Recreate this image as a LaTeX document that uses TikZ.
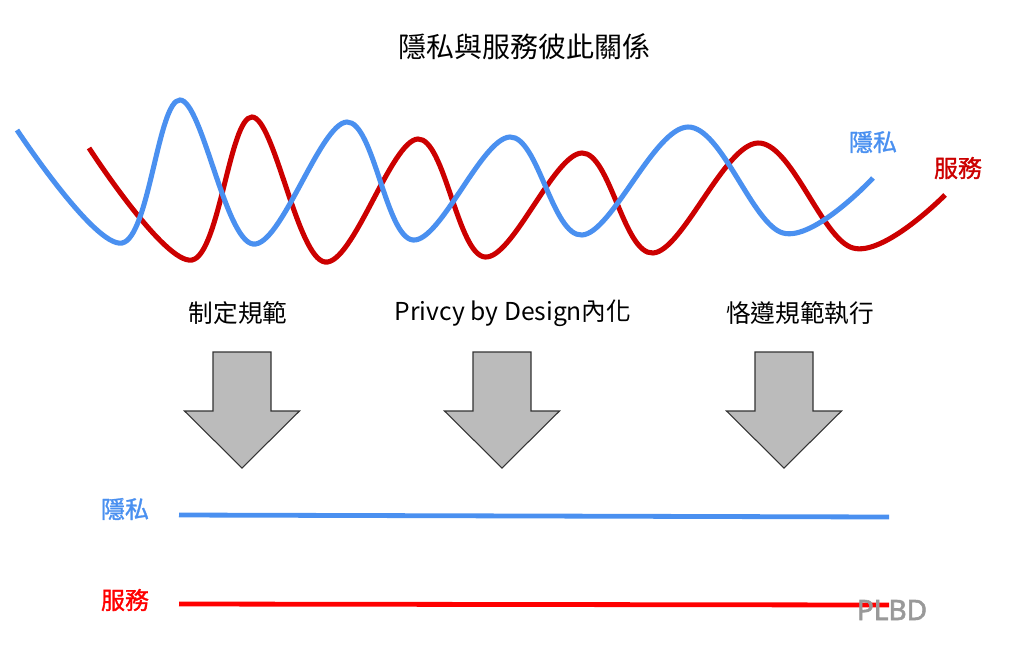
\documentclass[tikz,border=0pt]{standalone}
\usepackage{fontspec}
\usepackage{tikz}
\newfontfamily\cjk{Noto Sans CJK TC}
\newfontfamily\cjkmid[FakeBold=1.2]{Noto Sans CJK TC}
\newfontfamily\latinsans[FakeBold=2.2]{Noto Sans}
\definecolor{privblue}{HTML}{4A90F0}
\definecolor{servred}{HTML}{CC0000}
\definecolor{linered}{HTML}{FF0000}
\definecolor{arrowgray}{HTML}{BBBBBB}
\tikzset{
	wave/.style={line width=3.8pt,#1},
	flat/.style={line width=3.6pt,#1},
	word/.style 2 args={font=\cjk\fontsize{#1}{#1}\selectfont,text=#2,inner sep=0pt},
	tag/.style={font=\cjkmid\fontsize{18pt}{18pt}\selectfont,text=#1,inner sep=0pt},
	downarrow/.style={fill=arrowgray,draw=black!80,line width=0.8pt,line join=miter}
}

\begin{document}
\begin{tikzpicture}[x=0.75pt,y=-0.75pt]
	\useasboundingbox (0,0) rectangle (1024,669);

	\node [word={21pt}{black}] (title) at (524,47) {隱私與服務彼此關係};

	% waves
	\draw [wave=servred] plot[smooth,tension=0.6] coordinates {(89,148) (192,260) (252,117) (325,262) (418,139) (485,257) (582,153) (653,253) (758,143) (853,248) (945,195)};
	\draw [wave=privblue] plot[smooth,tension=0.6] coordinates {(17,130) (122,243) (180,100) (253,244) (347,122) (413,240) (510,137) (582,235) (688,127) (783,233) (873,178)};
	\node [tag=privblue] (privtop) at (873,142) {隱私};
	\node [tag=servred] (servtop) at (958,168) {服務};

	% steps
	\node [word={18.5pt}{black}] (step1) at (238,313) {制定規範};
	\node [word={18.5pt}{black}] (step2) at (513,313) {Privcy by Design內化};
	\node [word={18.5pt}{black}] (step3) at (800,313) {恪遵規範執行};

	\foreach \x in {242,502,784}
		\draw [downarrow] (\x-29,352) -- (\x+29,352) -- (\x+29,411) -- (\x+57.5,411)
			-- (\x,468) -- (\x-57.5,411) -- (\x-29,411) -- cycle;

	% result
	\node [tag=privblue] (privlow) at (125,509) {隱私};
	\node [tag=linered] (servlow) at (125,600) {服務};
	\draw [flat=privblue] (179,515) -- (889,517);
	\draw [flat=linered] (179,604) -- (889,605);
	\node [inner sep=0pt,text=black!40,font=\latinsans\fontsize{21pt}{21pt}\selectfont] (plbd) at (892,610) {PLBD};
\end{tikzpicture}
\end{document}
